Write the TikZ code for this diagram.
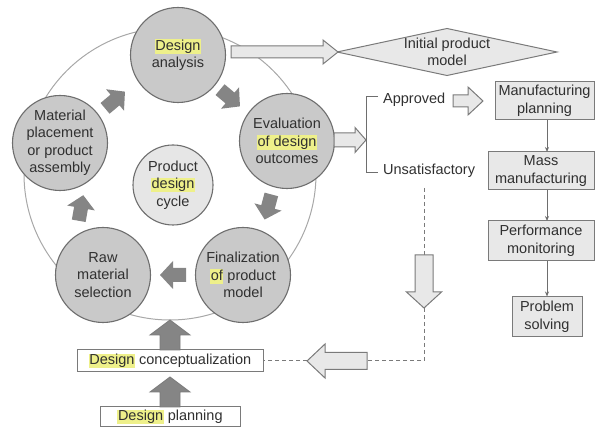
\documentclass[tikz,border=0pt]{standalone}
\usepackage{fontspec}
\setmainfont{Liberation Sans}
\usetikzlibrary{arrows.meta}
\definecolor{hl}{HTML}{EEF08A}
\definecolor{txt}{HTML}{303030}
\definecolor{cfill}{HTML}{C9C9C9}
\definecolor{cline}{HTML}{6E6E6E}
\definecolor{ifill}{HTML}{E6E6E6}
\definecolor{agray}{HTML}{858585}
\definecolor{bfill}{HTML}{E8E8E8}
\definecolor{bline}{HTML}{7A7A7A}
\definecolor{ringc}{HTML}{A8A8A8}
\newcommand{\hlw}[1]{{\setlength{\fboxsep}{0.6pt}\colorbox{hl}{\vphantom{Dg}#1}}}
\tikzset{
  lbl/.style={text=txt, font=\fontsize{14.5}{17.5}\selectfont, align=center, inner sep=0pt},
  stage/.style={lbl, circle, draw=cline, line width=1.1pt, fill=cfill, minimum size=95pt},
  inner/.style={lbl, circle, draw=cline, line width=1.1pt, fill=ifill, minimum size=80pt},
  pbox/.style={lbl, rectangle, draw=bline, line width=1pt, fill=bfill, minimum height=38pt},
  wbox/.style={lbl, rectangle, draw=bline, line width=1pt, fill=white, minimum height=22pt},
  hollow/.style={draw=bline, line width=1pt, fill=bfill},
  flowline/.style={draw=cline, line width=0.9pt, -{Stealth[length=5pt,width=4pt]}},
  dashline/.style={draw=bline, line width=1pt, dash pattern=on 4pt off 3pt},
  fatarrow/.pic={\fill[agray] (-13,-7) -- (0,-7) -- (0,-14) -- (13,0) -- (0,14) -- (0,7) -- (-13,7) -- cycle;},
}
\begin{document}
\begin{tikzpicture}[x=1pt,y=1pt]
\useasboundingbox (0,0) rectangle (595,428);
% ring
\draw[ringc, line width=1pt] (170,254) circle[radius=146];
% stage circles
\node[stage] (da) at (178,373) {\hlw{Design}\\analysis};
\node[stage] (mp) at (60,285) {Material\\placement\\or product\\assembly};
\node[stage] (ev) at (287,287) {Evaluation\\\hlw{of design}\\outcomes};
\node[inner] (pc) at (173,243) {Product\\\hlw{design}\\cycle};
\node[stage] (rm) at (103,153) {Raw\\material\\selection};
\node[stage] (fp) at (243,153) {Finalization\\\hlw{of} product\\model};
% cycle arrows
\pic[rotate=40] at (115,328) {fatarrow};
\pic[rotate=-40] at (230,330) {fatarrow};
\pic[rotate=-105] at (268,221) {fatarrow};
\pic[rotate=180] at (173,153) {fatarrow};
\pic[rotate=80] at (81,220) {fatarrow};
% bottom boxes
\node[wbox, minimum width=186pt] (dc) at (170,67) {\hlw{Design} conceptualization};
\node[wbox, minimum width=140pt, minimum height=20pt] (dp) at (170,11) {\hlw{Design} planning};
% up arrows
\fill[agray, draw=bline, line width=0.8pt] (160,78) -- (160,93) -- (150,93) -- (170,108) -- (190,93) -- (180,93) -- (180,78) -- cycle;
\fill[agray, draw=bline, line width=0.8pt] (160,21) -- (160,36) -- (150,36) -- (170,51) -- (190,36) -- (180,36) -- (180,21) -- cycle;
% diamond
\draw[hollow] (337,376) -- (447,399.5) -- (557,376) -- (447,352.5) -- cycle;
\node[lbl] (ipm) at (447,376) {Initial product\\model};
% top hollow arrow
\draw[hollow] (231,370) -- (323,370) -- (323,364) -- (338,376) -- (323,388) -- (323,382) -- (231,382) -- cycle;
% evaluation arrow to bracket
\draw[hollow] (334,281) -- (355,281) -- (355,275.5) -- (366,288) -- (355,300.5) -- (355,295) -- (334,295) -- cycle;
% bracket
\draw[cline, line width=1pt] (378,331) -- (366,331) -- (366,255) -- (378,255);
\node[lbl, anchor=west] (ap) at (383,328) {Approved};
\node[lbl, anchor=west] (un) at (383,257) {Unsatisfactory};
% approved arrow
\draw[hollow] (453,321) -- (468,321) -- (468,313) -- (483,327) -- (468,341) -- (468,333) -- (453,333) -- cycle;
% right process boxes
\node[pbox, minimum width=99pt] (mf) at (544.5,327) {Manufacturing\\planning};
\node[pbox, minimum width=106pt] (mm) at (541,257) {Mass\\manufacturing};
\node[pbox, minimum width=106pt, minimum height=40pt] (pm) at (541,187) {Performance\\monitoring};
\node[pbox, minimum width=70pt, minimum height=40pt] (ps) at (547,111) {Problem\\solving};
\draw[flowline] (547,308) -- (547,276);
\draw[flowline] (547,238) -- (547,207);
\draw[flowline] (ps.north |- pm.south) -- (ps.north);
% dashed feedback path
\coordinate (d0) at (424,240);
\coordinate (d1) at (424,173);
\coordinate (d2) at (424,120);
\coordinate (d3) at (424,67);
\coordinate (d4) at (367,67);
\coordinate (d5) at (307,67);
\draw[dashline] (d0) -- (d1);
\draw[dashline] (d2) -- (d3) -- (d4);
\draw[dashline] (d5) -- (dc.east);
\draw[hollow] (415,173) -- (433,173) -- (433,136) -- (441.5,136) -- (424,120) -- (406.5,136) -- (415,136) -- cycle;
\draw[hollow] (367,58.5) -- (367,75.5) -- (325,75.5) -- (325,84) -- (307,67) -- (325,50) -- (325,58.5) -- cycle;
\end{tikzpicture}
\end{document}
